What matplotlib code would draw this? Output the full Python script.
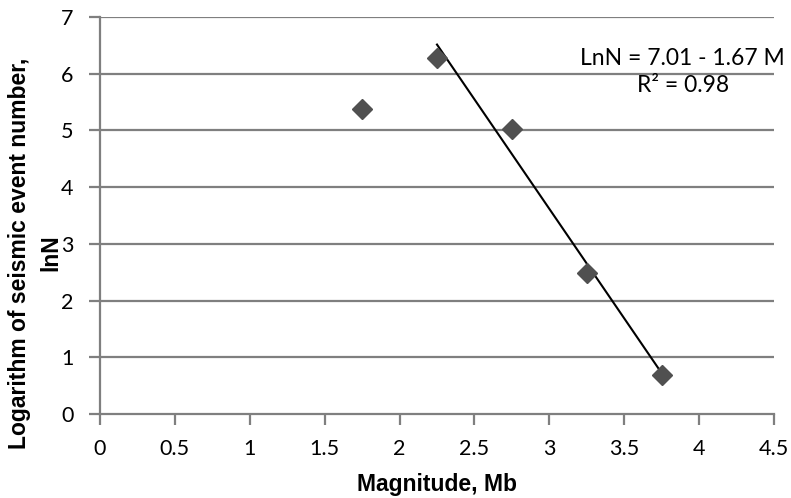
import numpy as np
import matplotlib.pyplot as plt

# valores
magnitud = [1.75, 2.25, 2.75, 3.25, 3.75]
ln_n = [5.38, 6.28, 5.02, 2.48, 0.69]
# la linea de tendencia solo usa los puntos desde 2.25
magnitud_ajuste = magnitud[1:]
ln_n_ajuste = ln_n[1:]

x_ticks = [0, 0.5, 1, 1.5, 2, 2.5, 3, 3.5, 4, 4.5]
x_tick_labels = ['0', '0.5', '1', '1.5', '2', '2.5', '3', '3.5', '4', '4.5']
y_ticks = [0, 1, 2, 3, 4, 5, 6, 7]

gris = '#7f7f7f'

fig = plt.figure(figsize=(7.91, 4.98), dpi=100)
ax = fig.add_axes([100/791, 1 - 414/498, 674/791, 397/498])

ax.set_xlim(0, 4.5)
ax.set_ylim(0, 7)

for v in y_ticks[1:]:
    ax.axhline(v, color=gris, lw=1.6, zorder=1)

pendiente, intercepto = np.polyfit(magnitud_ajuste, ln_n_ajuste, 1)
xs = np.array([magnitud_ajuste[0], magnitud_ajuste[-1]])
ax.plot(xs, intercepto + pendiente * xs, color='black', lw=1.5, zorder=3)

ax.plot(magnitud, ln_n, linestyle='none', marker='D', markersize=10,
        color='#505050', zorder=4, clip_on=False)

ax.set_xticks(x_ticks)
ax.set_xticklabels(x_tick_labels)
ax.set_yticks(y_ticks)
for lab in ax.get_xticklabels() + ax.get_yticklabels():
    lab.set_family('Lato')
    lab.set_fontsize(15.5)
ax.tick_params(axis='both', direction='out', length=8, width=1.6, color=gris,
               labelcolor='black')
ax.tick_params(axis='x', pad=10)
ax.tick_params(axis='y', pad=11)

for s in ['top', 'right']:
    ax.spines[s].set_visible(False)
for s in ['left', 'bottom']:
    ax.spines[s].set_color(gris)
    ax.spines[s].set_linewidth(1.6)

ax.set_xlabel('Magnitude, Mb', family='Liberation Sans', fontweight='bold',
              fontsize=16.5)
ax.xaxis.set_label_coords(337/674, -(473 - 414)/397)
ax.set_ylabel('Logarithm of seismic event number,\nlnN', family='Liberation Sans',
              fontweight='bold', fontsize=16.5, linespacing=1.45, ha='center')
ax.yaxis.set_label_coords(-38/674, (414 - 253)/397)

ax.text(3.89, 6.03, 'LnN = 7.01 - 1.67 M\nR² = 0.98', family='Lato', fontsize=16.5,
        ha='center', va='center', linespacing=1.3)

fig.savefig('out.png', dpi=100)
